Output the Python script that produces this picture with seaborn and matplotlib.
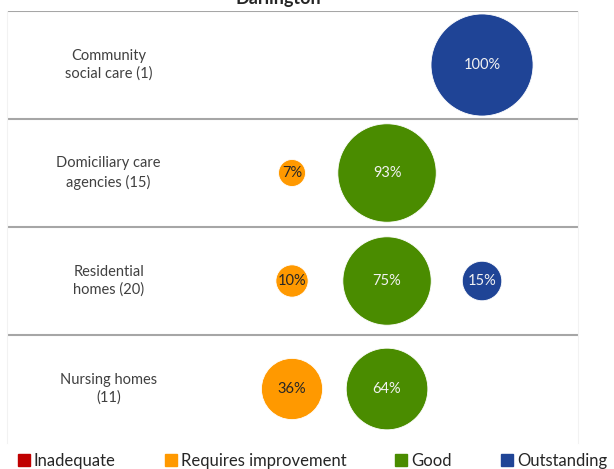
import pandas as pd
import matplotlib
matplotlib.use("Agg")
import matplotlib.pyplot as plt
import seaborn as sns
from matplotlib.lines import Line2D

# ratings by service type, Darlington (% of services)
categories = ["Inadequate", "Requires improvement", "Good", "Outstanding"]
services = ["Community\nsocial care (1)", "Domiciliary care\nagencies (15)",
            "Residential\nhomes (20)", "Nursing homes\n(11)"]
inadequate = [0, 0, 0, 0]
requires_improvement = [0, 7, 10, 36]
good = [0, 93, 75, 64]
outstanding = [100, 0, 15, 0]

colors = {"Inadequate": "#c00000", "Requires improvement": "#ff9900",
          "Good": "#4a8c00", "Outstanding": "#1f4496"}
label_colors = {"Inadequate": "#f2f2f2", "Requires improvement": "#262626",
                "Good": "#f2f2f2", "Outstanding": "#f2f2f2"}

sns.set_theme(style="white")
plt.rcParams['font.family'] = ['Lato', 'DejaVu Sans']

# long format table, one row per bubble
rows = []
for i, svc in enumerate(services):
    vals = [inadequate[i], requires_improvement[i], good[i], outstanding[i]]
    for j, cat in enumerate(categories):
        if vals[j] > 0:
            rows.append({'service': svc, 'rating': cat, 'pct': vals[j],
                         'x': j + 1, 'y': len(services) - i})
df = pd.DataFrame(rows)

fig = plt.figure(figsize=(6.14, 4.69), dpi=100)
ax = fig.add_axes([7/614, 1 - 443/469, 571/614, 432/469])

sns.scatterplot(data=df, x='x', y='y', hue='rating', palette=colors,
                size='pct', sizes=(0, 5400), size_norm=(0, 100),
                edgecolor='white', linewidth=0.6, alpha=1,
                legend=False, ax=ax, zorder=3)

for _, r in df.iterrows():
    ax.text(r['x'], r['y'], f"{r['pct']}%", ha='center', va='center',
            fontsize=10.5, color=label_colors[r['rating']], zorder=4)

for i, svc in enumerate(services):
    ax.text(0.07, len(services) - i, svc, ha='center', va='center',
            fontsize=10.5, color='#404040', linespacing=1.35)

# row separators
for yy in [4.5, 3.5, 2.5, 1.5]:
    ax.axhline(yy, color='#a6a6a6', lw=1.5, zorder=1)

ax.set_xlim(-1, 5.01)
ax.set_ylim(0.5, 4.5)
ax.set_xticks([])
ax.set_yticks([])
ax.set_xlabel('')
ax.set_ylabel('')
for side in ['top', 'bottom']:
    ax.spines[side].set_visible(False)
for side in ['left', 'right']:
    ax.spines[side].set_color('#f2f2f2')
    ax.spines[side].set_linewidth(0.8)

# title sits mostly above the top edge, as in the source image
fig.text(278/614, 1 - 4/469, 'Darlington', ha='center', va='baseline',
         fontsize=13, fontweight='bold', color='#262626')

handles = [Line2D([], [], marker='s', ls='', color=colors[c], markersize=8)
           for c in categories]
fig.legend(handles, categories, loc='center', ncol=4,
           bbox_to_anchor=(313/614, 1 - 461/469), frameon=False,
           fontsize=12, handlelength=0.6, handletextpad=0.3,
           columnspacing=3.0, labelcolor='#262626', borderaxespad=0,
           borderpad=0)

fig.savefig('out.png', dpi=100)
